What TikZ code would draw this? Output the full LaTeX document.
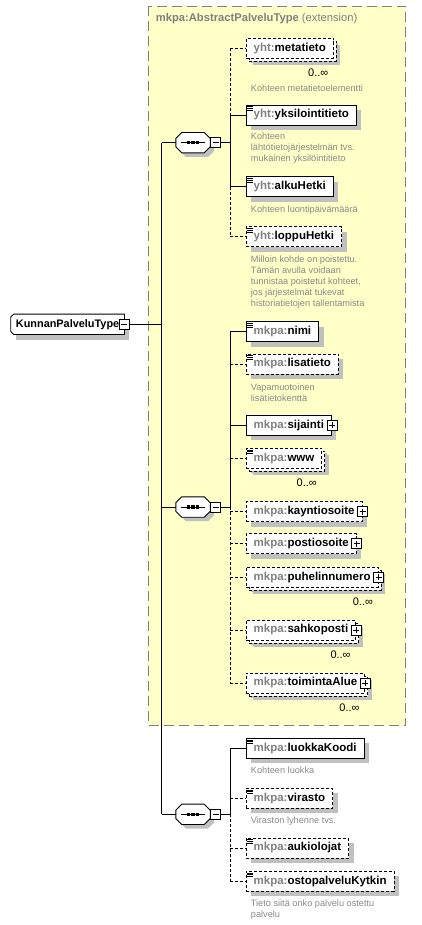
\documentclass[tikz,border=0pt]{standalone}
\usepackage{fontspec}
\setmainfont{Liberation Sans}
\usetikzlibrary{positioning}

\definecolor{extyellow}{HTML}{FFFFC8}
\definecolor{extborder}{HTML}{808080}
\definecolor{shadowgray}{HTML}{C0C0C0}
\definecolor{prefixgray}{HTML}{808080}
\definecolor{docgray}{HTML}{8A8A8A}

\pgfdeclarelayer{back}
\pgfdeclarelayer{shapes}
\pgfsetlayers{back,shapes,main}

\newcommand{\elemfont}{\fontsize{11.5}{13}\selectfont\bfseries}
\newcommand{\docfont}{\fontsize{9.2}{11}\selectfont}
\newcommand{\occfont}{\fontsize{11}{13}\selectfont}
\newcommand{\pfx}[1]{\textcolor{prefixgray}{#1}}
% octagon round a sequence node
\newcommand{\seqoutline}[1]{([xshift=6pt]#1.north west) -- ([xshift=-6pt]#1.north east)
    -- ([yshift=-6pt]#1.north east) -- ([yshift=6pt]#1.south east)
    -- ([xshift=-6pt]#1.south east) -- ([xshift=6pt]#1.south west)
    -- ([yshift=6pt]#1.south west) -- ([yshift=-6pt]#1.north west) -- cycle}

\begin{document}
\begin{tikzpicture}[
    x=1pt, y=-1pt,
    conn/.style={line width=0.9pt},
    optconn/.style={conn, dash pattern=on 3pt off 2pt},
    dropshadow/.style={preaction={fill=shadowgray, transform canvas={shift={(5pt,-5pt)}}}},
    elembox/.style={draw, fill=white, line width=0.9pt, anchor=west, minimum height=20pt,
        inner xsep=7.5pt, inner ysep=0pt, font=\elemfont, dropshadow},
    optbox/.style={elembox, dash pattern=on 3pt off 2pt},
    multibox/.style={optbox,
        preaction={fill=shadowgray, transform canvas={shift={(7pt,-7pt)}}},
        preaction={draw, fill=white, line width=0.9pt, dash pattern=on 3pt off 2pt,
            transform canvas={shift={(3pt,-3pt)}}}},
    simple/.style={path picture={
        \foreach \k in {1.8,3.5,5.2}
            \draw[solid, line width=0.7pt] ([xshift=1pt,yshift=-\k pt]path picture bounding box.north west) -- ++(5.5pt,0pt);
    }},
    pmbox/.style={draw, solid, fill=white, line width=0.8pt, minimum size=10pt, inner sep=0pt},
    minusbox/.style={pmbox, path picture={
        \draw[line width=0.8pt] ([xshift=2pt]path picture bounding box.west) -- ([xshift=-2pt]path picture bounding box.east);
    }},
    plusbox/.style={pmbox, path picture={
        \draw[line width=0.8pt] ([xshift=2pt]path picture bounding box.west) -- ([xshift=-2pt]path picture bounding box.east);
        \draw[line width=0.8pt] ([yshift=-2pt]path picture bounding box.north) -- ([yshift=2pt]path picture bounding box.south);
    }},
    rootbox/.style={anchor=west, minimum height=20pt, inner xsep=5pt, inner ysep=0pt,
        font=\fontsize{10.9}{13}\selectfont\bfseries},
    seqbox/.style={minimum width=34pt, minimum height=20pt, inner sep=0pt},
    doc/.style={anchor=west, align=left, font=\docfont, text=docgray, inner sep=0pt},
    occ/.style={anchor=east, font=\occfont, inner sep=0pt}
]
\useasboundingbox (0,0) rectangle (421,925);

% extension box
\begin{pgfonlayer}{back}
\draw[fill=extyellow, draw=extborder, line width=0.9pt, dash pattern=on 10pt off 5pt] (148,6) rectangle (405.5,725.5);
\end{pgfonlayer}
\node[anchor=west, inner sep=0pt, font=\fontsize{11.2}{13}\selectfont, text=extborder] (ext-title) at (155.7,19)
    {\textbf{mkpa:AbstractPalveluType} (extension)};

% root type
\node[rootbox] (root) at (10.7,324.3) {KunnanPalveluType\hspace{8.3pt}};
\begin{pgfonlayer}{shapes}
\fill[shadowgray] ([shift={(5pt,-5pt)}]root.north west) rectangle ([shift={(5pt,-5pt)}]root.south east);
\draw[fill=white, line width=0.9pt] ([xshift=3pt]root.north west) -- (root.north east) -- (root.south east)
    -- ([xshift=3pt]root.south west) -- ([yshift=3pt]root.south west) -- ([yshift=-3pt]root.north west) -- cycle;
\end{pgfonlayer}
\node[minusbox] (root-minus) at (root.east) {};

% sequences
\node[seqbox] (seq1) at (193,142.7) {};
\node[seqbox] (seq2) at (193,507) {};
\node[seqbox] (seq3) at (193,814.3) {};
\foreach \s in {seq1, seq2, seq3} {
    \fill[shadowgray, transform canvas={shift={(4pt,-4pt)}}] \seqoutline{\s};
    \draw[fill=white, line width=0.9pt] \seqoutline{\s};
    \draw[line width=0.8pt] ([xshift=5pt]\s.west) -- ([xshift=-5pt]\s.east);
    \foreach \dx in {-4.5,0,4.5}
        \fill ([xshift=\dx pt-1.6pt, yshift=-1.6pt]\s.center) rectangle ([xshift=\dx pt+1.6pt, yshift=1.6pt]\s.center);
}
\node[minusbox, anchor=west] (seq1-minus) at (seq1.east) {};
\node[minusbox, anchor=west] (seq2-minus) at (seq2.east) {};
\node[minusbox, anchor=west] (seq3-minus) at (seq3.east) {};

\coordinate (trunk) at (161.7,324.3);
\coordinate (b1) at (230,142.7);
\coordinate (b2) at (230,507);
\coordinate (b3) at (230,814.3);

% sequence 1
\node[multibox] (metatieto) at (245.7,48.3) {\pfx{yht:}metatieto};
\node[elembox, simple] (yksilointitieto) at (245.7,115) {\pfx{yht:}yksilointitieto};
\node[elembox, simple] (alkuHetki) at (245.7,186.7) {\pfx{yht:}alkuHetki};
\node[optbox, simple] (loppuHetki) at (245.7,236.7) {\pfx{yht:}loppuHetki};

\node[occ] (metatieto-occ) at ([xshift=-5.4pt,yshift=-14pt]metatieto.south east) {0..∞};
\node[doc] (metatieto-doc) at (250.7,88) {Kohteen metatietoelementti};
\node[doc] (yksilointitieto-doc) at (250.7,148.3) {Kohteen\\lähtötietojärjestelmän tvs.\\mukainen yksilöintitieto};
\node[doc] (alkuHetki-doc) at (250.7,210) {Kohteen luontipäivämäärä};
\node[doc] (loppuHetki-doc) at (250.7,281.8) {Milloin kohde on poistettu.\\Tämän avulla voidaan\\tunnistaa poistetut kohteet,\\jos järjestelmät tukevat\\historiatietojen tallentamista};

% sequence 2
\node[elembox, simple] (nimi) at (245.7,331.7) {\pfx{mkpa:}nimi};
\node[optbox, simple] (lisatieto) at (245.7,364) {\pfx{mkpa:}lisatieto};
\node[elembox] (sijainti) at (245.7,425.3) {\pfx{mkpa:}sijainti\hspace{5pt}};
\node[multibox, simple] (www) at (245.7,458.3) {\pfx{mkpa:}www};
\node[optbox] (kayntiosoite) at (245.7,511.7) {\pfx{mkpa:}kayntiosoite\hspace{6pt}};
\node[optbox] (postiosoite) at (245.7,543.7) {\pfx{mkpa:}postiosoite\hspace{6pt}};
\node[multibox] (puhelinnumero) at (245.7,577.3) {\pfx{mkpa:}puhelinnumero\hspace{6pt}};
\node[multibox] (sahkoposti) at (245.7,630) {\pfx{mkpa:}sahkoposti\hspace{6pt}};
\node[multibox] (toimintaAlue) at (245.7,683) {\pfx{mkpa:}toimintaAlue\hspace{6pt}};

\node[plusbox] (sijainti-plus) at (sijainti.east) {};
\node[plusbox] (kayntiosoite-plus) at (kayntiosoite.east) {};
\node[plusbox] (postiosoite-plus) at (postiosoite.east) {};
\node[plusbox] (puhelinnumero-plus) at (puhelinnumero.east) {};
\node[plusbox] (sahkoposti-plus) at (sahkoposti.east) {};
\node[plusbox] (toimintaAlue-plus) at (toimintaAlue.east) {};

\node[doc] (lisatieto-doc) at (250.7,392.3) {Vapamuotoinen\\lisätietokenttä};
\node[occ] (www-occ) at ([xshift=-5.4pt,yshift=-14pt]www.south east) {0..∞};
\node[occ] (puhelinnumero-occ) at ([xshift=-5.4pt,yshift=-14pt]puhelinnumero.south east) {0..∞};
\node[occ] (sahkoposti-occ) at ([xshift=-5.4pt,yshift=-14pt]sahkoposti.south east) {0..∞};
\node[occ] (toimintaAlue-occ) at ([xshift=-5.4pt,yshift=-14pt]toimintaAlue.south east) {0..∞};

% sequence 3
\node[elembox, simple] (luokkaKoodi) at (245.7,748.3) {\pfx{mkpa:}luokkaKoodi};
\node[optbox, simple] (virasto) at (245.7,798.3) {\pfx{mkpa:}virasto};
\node[optbox, simple] (aukiolojat) at (245.7,848) {\pfx{mkpa:}aukiolojat};
\node[optbox, simple] (ostopalveluKytkin) at (245.7,881.3) {\pfx{mkpa:}ostopalveluKytkin};

\node[doc] (luokkaKoodi-doc) at (250.7,770.7) {Kohteen luokka};
\node[doc] (virasto-doc) at (250.7,820.7) {Viraston lyhenne tvs.};
\node[doc] (ostopalveluKytkin-doc) at (250.7,909.2) {Tieto siitä onko palvelu ostettu\\palvelu};

% connectors
\draw[conn] (root-minus.east) -- (trunk);
\draw[conn] (trunk |- seq1.west) -- (trunk |- seq3.west);
\foreach \s in {seq1, seq2, seq3}
    \draw[conn] (trunk |- \s.west) -- (\s.west);
\draw[conn] (seq1-minus.east) -- (b1);
\draw[conn] (seq2-minus.east) -- (b2);
\draw[conn] (seq3-minus.east) -- (b3);

\draw[optconn] (b1 |- metatieto.west) -- (b1 |- yksilointitieto.west);
\draw[conn] (b1 |- yksilointitieto.west) -- (b1 |- alkuHetki.west);
\draw[optconn] (b1 |- alkuHetki.west) -- (b1 |- loppuHetki.west);
\foreach \e in {yksilointitieto, alkuHetki}
    \draw[conn] (b1 |- \e.west) -- (\e.west);
\foreach \e in {metatieto, loppuHetki}
    \draw[optconn] (b1 |- \e.west) -- (\e.west);

\draw[conn] (b2 |- nimi.west) -- (b2);
\draw[optconn] (b2) -- (b2 |- toimintaAlue.west);
\foreach \e in {nimi, sijainti}
    \draw[conn] (b2 |- \e.west) -- (\e.west);
\foreach \e in {lisatieto, www, kayntiosoite, postiosoite, puhelinnumero, sahkoposti, toimintaAlue}
    \draw[optconn] (b2 |- \e.west) -- (\e.west);

\draw[conn] (b3 |- luokkaKoodi.west) -- (b3);
\draw[optconn] (b3) -- (b3 |- ostopalveluKytkin.west);
\draw[conn] (b3 |- luokkaKoodi.west) -- (luokkaKoodi.west);
\foreach \e in {virasto, aukiolojat, ostopalveluKytkin}
    \draw[optconn] (b3 |- \e.west) -- (\e.west);

\end{tikzpicture}
\end{document}
